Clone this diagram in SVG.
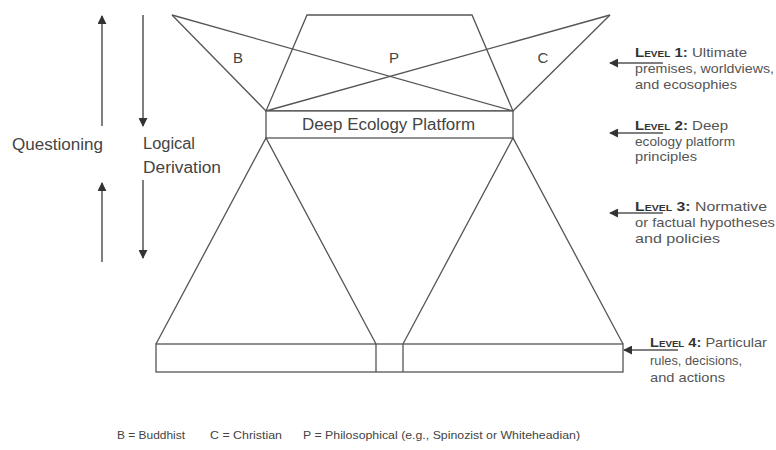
<svg xmlns="http://www.w3.org/2000/svg" width="776" height="450" viewBox="0 0 776 450">
<defs>
<marker id="ah" viewBox="0 0 10 10" refX="9" refY="5" markerWidth="9" markerHeight="9" markerUnits="userSpaceOnUse" orient="auto">
<path d="M0,0 L10,5 L0,10 z" fill="#333"/>
</marker>
<style>
.ln{stroke:#555;stroke-width:1.3;fill:none}
.bx{stroke:#555;stroke-width:1.3;fill:#fff}
.ar{stroke:#555;stroke-width:1.5;fill:none;marker-end:url(#ah)}
.t{font-family:"Liberation Sans",Arial,sans-serif;fill:#444}
.lv{font-family:"Liberation Sans",Arial,sans-serif;font-size:13.5px;fill:#555}
.lvb{font-weight:bold;font-variant:small-caps;fill:#333}
</style>
</defs>
<rect width="776" height="450" fill="#fff"/>
<g id="connectors">
<line class="ar" x1="102" y1="126" x2="102" y2="16"/>
<line class="ar" x1="102" y1="262" x2="102" y2="183"/>
<line class="ar" x1="143" y1="15" x2="143" y2="126"/>
<line class="ar" x1="143" y1="180" x2="143" y2="258"/>
<line class="ar" x1="663" y1="63" x2="610" y2="63"/>
<line class="ar" x1="663" y1="133" x2="610" y2="133"/>
<line class="ar" x1="663" y1="213" x2="610" y2="213"/>
<line class="ar" x1="678" y1="350" x2="624" y2="350"/>
</g>
<g id="level1-top">
<polygon class="ln" points="307,15 472,15 513,111 266,111"/>
<line class="ln" x1="172" y1="15" x2="266" y2="111"/>
<line class="ln" x1="172" y1="15" x2="513" y2="111"/>
<line class="ln" x1="610" y1="15" x2="513" y2="111"/>
<line class="ln" x1="610" y1="15" x2="266" y2="111"/>
<text class="t" x="238" y="63" font-size="15" text-anchor="middle">B</text>
<text class="t" x="394" y="63" font-size="15" text-anchor="middle">P</text>
<text class="t" x="543" y="63" font-size="15" text-anchor="middle">C</text>
</g>
<g id="platform">
<rect class="bx" x="266" y="111" width="247" height="27"/>
<text class="t" x="302" y="130" font-size="16" textLength="173" lengthAdjust="spacingAndGlyphs">Deep Ecology Platform</text>
</g>
<g id="level3-triangles">
<polyline class="ln" points="156,344 266,138 376,344"/>
<polyline class="ln" points="403,344 513,138 623,344"/>
</g>
<g id="level4-bar">
<rect class="bx" x="156" y="344" width="467" height="28"/>
<line class="ln" x1="376" y1="344" x2="376" y2="372"/>
<line class="ln" x1="403" y1="344" x2="403" y2="372"/>
</g>
<g id="left-labels">
<text class="t" x="12" y="150" font-size="16" textLength="91" lengthAdjust="spacingAndGlyphs">Questioning</text>
<text class="t" x="143" y="149" font-size="16" textLength="52" lengthAdjust="spacingAndGlyphs">Logical</text>
<text class="t" x="143" y="173" font-size="16" textLength="78" lengthAdjust="spacingAndGlyphs">Derivation</text>
</g>
<g id="level-labels">
<text class="lv" x="635" y="57" textLength="112" lengthAdjust="spacingAndGlyphs"><tspan class="lvb">Level 1:</tspan> Ultimate</text>
<text class="lv" x="635" y="73" textLength="139" lengthAdjust="spacingAndGlyphs">premises, worldviews,</text>
<text class="lv" x="635" y="89" textLength="102" lengthAdjust="spacingAndGlyphs">and ecosophies</text>
<text class="lv" x="635" y="130" textLength="93" lengthAdjust="spacingAndGlyphs"><tspan class="lvb">Level 2:</tspan> Deep</text>
<text class="lv" x="635" y="146" textLength="100" lengthAdjust="spacingAndGlyphs">ecology platform</text>
<text class="lv" x="635" y="161" textLength="62" lengthAdjust="spacingAndGlyphs">principles</text>
<text class="lv" x="635" y="211" textLength="132" lengthAdjust="spacingAndGlyphs"><tspan class="lvb">Level 3:</tspan> Normative</text>
<text class="lv" x="635" y="227" textLength="140" lengthAdjust="spacingAndGlyphs">or factual hypotheses</text>
<text class="lv" x="635" y="243" textLength="85" lengthAdjust="spacingAndGlyphs">and policies</text>
<text class="lv" x="650" y="347" textLength="117" lengthAdjust="spacingAndGlyphs"><tspan class="lvb">Level 4:</tspan> Particular</text>
<text class="lv" x="650" y="365" textLength="92" lengthAdjust="spacingAndGlyphs">rules, decisions,</text>
<text class="lv" x="650" y="382" textLength="75" lengthAdjust="spacingAndGlyphs">and actions</text>
</g>
<g id="legend">
<text class="t" x="117" y="439" font-size="11" textLength="68" lengthAdjust="spacingAndGlyphs">B = Buddhist</text>
<text class="t" x="210" y="439" font-size="11" textLength="72" lengthAdjust="spacingAndGlyphs">C = Christian</text>
<text class="t" x="303" y="439" font-size="11" textLength="277" lengthAdjust="spacingAndGlyphs">P = Philosophical (e.g., Spinozist or Whiteheadian)</text>
</g>
</svg>
